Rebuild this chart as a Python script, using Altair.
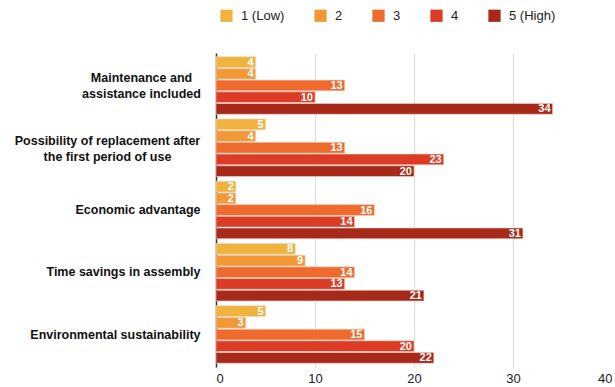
import altair as alt
import pandas as pd

categories = [
    "Maintenance and assistance included",
    "Possibility of replacement after the first period of use",
    "Economic advantage",
    "Time savings in assembly",
    "Environmental sustainability",
]
cat_lines = {
    "Maintenance and assistance included": ["Maintenance and", "assistance included"],
    "Possibility of replacement after the first period of use": ["Possibility of replacement after", "the first period of use"],
    "Economic advantage": ["Economic advantage"],
    "Time savings in assembly": ["Time savings in assembly"],
    "Environmental sustainability": ["Environmental sustainability"],
}
levels = ["1 (Low)", "2", "3", "4", "5 (High)"]
values = {
    "1 (Low)": [4, 5, 2, 8, 5],
    "2": [4, 4, 2, 9, 3],
    "3": [13, 13, 16, 14, 15],
    "4": [10, 23, 14, 13, 20],
    "5 (High)": [34, 20, 31, 21, 22],
}
colors = ["#F0B43E", "#F29937", "#EE6B2D", "#DC3B26", "#A7291A"]
x_ticks = [0, 10, 20, 30, 40]

rows = []
for lv in levels:
    for c, v in zip(categories, values[lv]):
        rows.append({"category": c, "level": lv, "value": v})
df = pd.DataFrame(rows)

parts = []
for c in categories:
    lines = cat_lines[c]
    arr = "[" + ", ".join("'" + l + "'" for l in lines) + "]"
    parts.append(f"datum.value == '{c}' ? {arr}")
label_expr = " : ".join(parts) + " : datum.value"

c0, c1 = categories[0], categories[1]
test_multi = f"datum.value == '{c0}' || datum.value == '{c1}'"

y_enc = alt.Y(
    "category:N",
    sort=categories,
    scale=alt.Scale(paddingInner=0.076, paddingOuter=0.06),
    axis=alt.Axis(
        title=None,
        labelExpr=label_expr,
        labelFont="Liberation Sans",
        labelFontSize=12.5,
        labelFontWeight="bold",
        labelColor="#111111",
        labelAlign={"condition": {"test": test_multi, "value": "center"}, "value": "right"},
        labelPadding={
            "condition": [
                {"test": f"datum.value == '{c0}'", "value": 75},
                {"test": f"datum.value == '{c1}'", "value": 109},
            ],
            "value": 16,
        },
        labelOffset={"condition": {"test": test_multi, "value": -7}, "value": 0},
        ticks=False,
        domain=True,
        domainColor="#333333",
        domainWidth=1.5,
        labelLimit=300,
        labelLineHeight=16,
    ),
)
yoff = alt.YOffset("level:N", sort=levels, scale=alt.Scale(paddingInner=0.08, paddingOuter=0))

base = alt.Chart(df).encode(y=y_enc, yOffset=yoff)

bars = base.mark_bar(stroke="#f6d3c8", strokeWidth=0.6).encode(
    x=alt.X(
        "value:Q",
        scale=alt.Scale(domain=[0, 40], nice=False),
        axis=alt.Axis(
            title=None,
            values=x_ticks,
            grid=True,
            gridColor="#dddddd",
            domain=False,
            ticks=False,
            labelFont="Liberation Sans",
            labelFontSize=13,
            labelColor="#222222",
            labelPadding=5,
        ),
    ),
    color=alt.Color(
        "level:N",
        sort=levels,
        scale=alt.Scale(domain=levels, range=colors),
        legend=alt.Legend(
            title=None,
            orient="none",
            legendX=4,
            legendY=-44,
            direction="horizontal",
            symbolType="square",
            symbolSize=150,
            symbolStrokeWidth=0,
            labelFont="Liberation Sans",
            labelFontSize=13,
            labelColor="#222222",
            columnPadding=29,
            labelOffset=8,
        ),
    ),
)

texts = base.mark_text(
    align="right", dx=-2, dy=0.5, color="white", fontWeight="bold",
    font="Liberation Sans", fontSize=11,
).encode(x="value:Q", text="value:Q")

chart = (bars + texts).properties(
    width=396,
    height=314,
    padding={"left": 216, "top": 53, "right": 0, "bottom": 20},
    autosize=alt.AutoSizeParams(type="none"),
).configure_view(stroke=None)

chart.save("out.html", embed_options={"renderer": "svg", "actions": False})
